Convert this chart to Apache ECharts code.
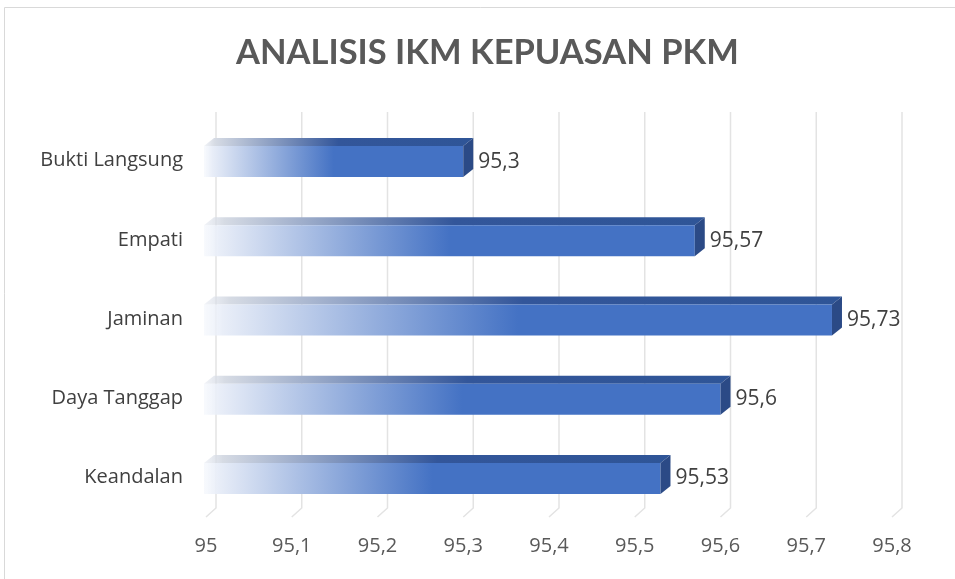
<!DOCTYPE html>
<html><head><meta charset="utf-8">
<script src="https://cdn.jsdelivr.net/npm/echarts@6/dist/echarts.min.js"></script>
<style>html,body{margin:0;padding:0;background:#fff}#c{width:955px;height:579px}</style>
</head><body><div id="c"></div>
<script>
const categories = ['Bukti Langsung','Empati','Jaminan','Daya Tanggap','Keandalan'];
const values = [95.3, 95.57, 95.73, 95.6, 95.53];
const xTicks = [95, 95.1, 95.2, 95.3, 95.4, 95.5, 95.6, 95.7, 95.8];
const titleText = 'ANALISIS IKM KEPUASAN PKM';

const fmt = v => String(+v.toFixed(2)).replace('.', ',');
const chart = echarts.init(document.getElementById('c'));
const FONT = 'Open Sans';
const DX = 10, DY = 9;
chart.setOption({
  animation: false,
  title: {text: titleText, left: 231, top: 30,
    textStyle: {fontFamily: 'Lato', fontWeight: 'bold', fontSize: 34.5, color: '#595959'}},
  graphic: [{type:'rect', shape:{x:4.5,y:7.5,width:970,height:600}, style:{fill:'none', stroke:'#d9d9d9', lineWidth:1}, silent:true, z:-10}],
  grid: {left: 206, right: 63, top: 121, bottom: 62},
  xAxis: {type:'value', min: xTicks[0], max: xTicks[xTicks.length-1], interval: 0.1,
    axisLine:{show:false}, axisTick:{show:false},
    splitLine:{show:false},
    axisLabel:{fontFamily: FONT, fontSize: 20, color:'#595959', margin: 19, formatter: v => fmt(v)}},
  yAxis: {type:'category', data: categories, inverse: true,
    axisLine:{show:false}, axisTick:{show:false}, splitLine:{show:false},
    axisLabel:{fontFamily: FONT, fontSize: 20, color:'#404040', margin: 23}},
  series: [{
    type:'custom',
    z: 1,
    silent: true,
    data: xTicks.map(t=>[t, 0]),
    encode:{x:0},
    renderItem: function(params, api){
      const p = api.coord([api.value(0), 0]);
      const cs = params.coordSys;
      const xb = p[0], yb = cs.y + cs.height;
      const st = {stroke:'#e3e3e3', lineWidth:1.5, fill:'none'};
      return {type:'polyline', shape:{points:[[xb+DX, 112],[xb+DX, yb-DY],[xb, yb]]}, style: st};
    }
  },{
    type:'custom',
    z: 2,
    data: values.map((v,i)=>[v,i]),
    encode:{x:0, y:1},
    renderItem: function(params, api){
      const v = api.value(0), idx = api.value(1);
      const s = api.coord([xTicks[0], idx]);
      const e = api.coord([v, idx]);
      const h = 31, dx = DX, dy = 8;
      const x0 = s[0] - 2, x1 = e[0];
      const y0 = e[1] - h/2 + 1;
      const front = new echarts.graphic.LinearGradient(0,0,1,0,[
        {offset:0, color:'rgba(240,244,251,0.5)'},
        {offset:0.03, color:'#e9eef8'},
        {offset:0.5, color:'#4472C4'},
        {offset:1, color:'#4472C4'}]);
      const top = new echarts.graphic.LinearGradient(0,0,1,0,[
        {offset:0, color:'rgba(220,225,235,0.4)'},
        {offset:0.04, color:'#d6dbe4'},
        {offset:0.5, color:'#33569a'},
        {offset:1, color:'#2f5597'}]);
      return {type:'group', children:[
        {type:'polygon', shape:{points:[[x0,y0],[x1,y0],[x1+dx,y0-dy],[x0+dx,y0-dy]]}, style:{fill: top}},
        {type:'rect', shape:{x:x0, y:y0, width:x1-x0, height:h}, style:{fill: front}},
        {type:'polygon', shape:{points:[[x1,y0],[x1+dx,y0-dy],[x1+dx,y0+h-dy],[x1,y0+h]]}, style:{fill:'#2b4a86'}},
        {type:'text', x: x1+dx+5, y: y0+h/2, style:{text: fmt(v), fontFamily: FONT, fontSize: 21, fill:'#404040', verticalAlign:'middle', align:'left'}}
      ]};
    }
  }]
});
</script></body></html>
